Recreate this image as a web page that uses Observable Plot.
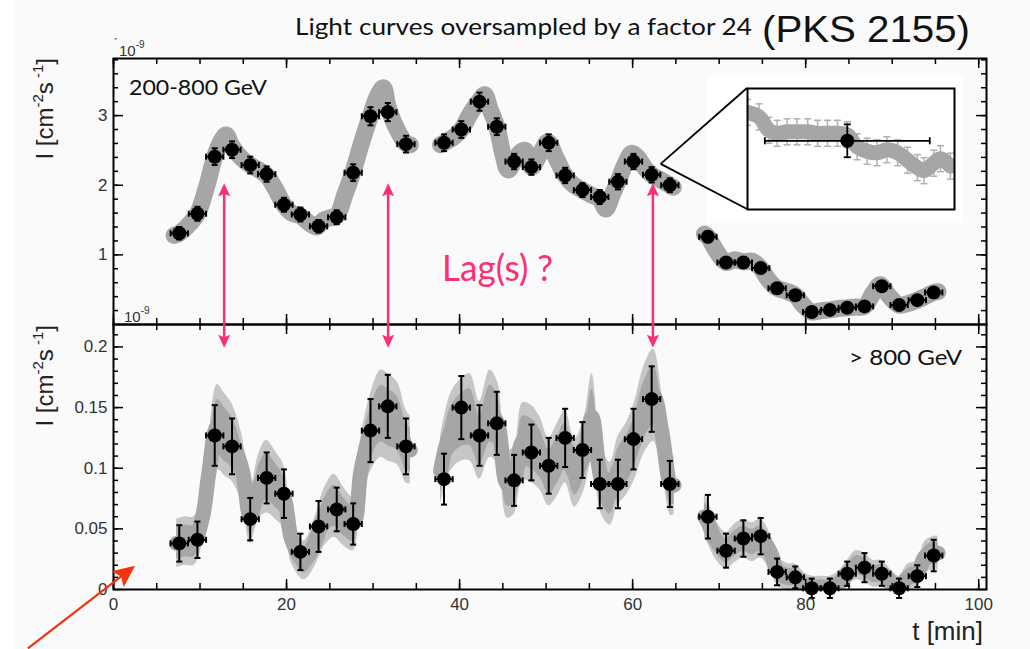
<!DOCTYPE html>
<html>
<head>
<meta charset="utf-8">
<script src="https://cdn.jsdelivr.net/npm/d3@7"></script>
<script src="https://cdn.jsdelivr.net/npm/@observablehq/plot@0.6"></script>
<style>
  html, body { margin: 0; padding: 0; background: #fff; }
  #stage { position: relative; width: 1030px; height: 649px; overflow: hidden;
           background: linear-gradient(to right, #fff 14px, #fafafa 14px); }
  #stage > svg { position: absolute; overflow: visible; }
</style>
</head>
<body>
<div id="stage"></div>
<script>
// PKS 2155-304 light curves: 2-min bins and the same data oversampled by a factor 24.

// Bin centres (minutes)
const binT = [7.6, 9.7, 11.7, 13.7, 15.8, 17.7, 19.7, 21.6, 23.7, 25.8, 27.7, 29.7, 31.7, 33.8,
  38.2, 40.2, 42.3, 44.3, 46.3, 48.3, 50.3, 52.2, 54.2, 56.2, 58.3, 60.1, 62.2, 64.3,
  68.7, 70.8, 72.8, 74.8, 76.7, 78.8, 80.7, 82.8, 84.8, 86.8, 88.8, 90.8, 92.9, 94.8];
const binHalfWidth = 1.0;

// 200-800 GeV flux (1e-9 cm^-2 s^-1)
const lowFlux = [1.31, 1.59, 2.41, 2.51, 2.29, 2.16, 1.72, 1.58, 1.41, 1.54, 2.18, 2.99, 3.05, 2.59,
  2.61, 2.80, 3.20, 2.84, 2.34, 2.26, 2.61, 2.14, 1.93, 1.83, 2.05, 2.34, 2.15, 2.00,
  1.26, 0.89, 0.89, 0.81, 0.52, 0.42, 0.18, 0.21, 0.24, 0.26, 0.55, 0.28, 0.35, 0.46];
const lowErr = [0.09, 0.10, 0.12, 0.12, 0.12, 0.11, 0.10, 0.10, 0.09, 0.10, 0.12, 0.13, 0.13, 0.12,
  0.12, 0.12, 0.13, 0.12, 0.11, 0.11, 0.12, 0.11, 0.10, 0.10, 0.11, 0.11, 0.11, 0.10,
  0.08, 0.07, 0.07, 0.07, 0.06, 0.06, 0.05, 0.05, 0.05, 0.05, 0.06, 0.05, 0.05, 0.06];

// > 800 GeV flux (1e-9 cm^-2 s^-1)
const highFlux = [0.038, 0.041, 0.127, 0.118, 0.058, 0.092, 0.079, 0.031, 0.052, 0.066, 0.054, 0.131, 0.151, 0.118,
  0.091, 0.150, 0.127, 0.137, 0.090, 0.113, 0.102, 0.125, 0.115, 0.087, 0.087, 0.124, 0.157, 0.087,
  0.060, 0.032, 0.042, 0.044, 0.0145, 0.010, 0.001, 0.001, 0.013, 0.018, 0.013, 0.001, 0.011, 0.028];
const highErr = [0.015, 0.015, 0.025, 0.023, 0.0175, 0.021, 0.020, 0.015, 0.021, 0.018, 0.017, 0.026, 0.026, 0.023,
  0.021, 0.026, 0.025, 0.026, 0.021, 0.023, 0.023, 0.024, 0.023, 0.020, 0.020, 0.025, 0.027, 0.019,
  0.018, 0.014, 0.015, 0.015, 0.011, 0.009, 0.008, 0.008, 0.010, 0.012, 0.010, 0.008, 0.009, 0.013];

// Oversampled 200-800 GeV curve
const overLowT = [7.0, 7.6, 8.6, 9.7, 10.7, 11.7, 12.3, 13.0, 13.7, 14.7, 15.8, 16.8, 17.7, 18.7, 19.7, 20.6,
  21.6, 22.6, 23.5, 24.3, 25.0, 25.8, 26.7, 27.7, 28.7, 29.7, 30.5, 31.2, 31.7, 32.7, 33.8, 34.3,
  37.8, 38.2, 39.2, 40.2, 41.2, 42.3, 42.9, 43.5, 44.3, 45.0, 45.6, 46.3, 47.0, 47.6, 48.3, 49.3,
  50.2, 51.2, 52.2, 53.2, 54.2, 55.2, 56.2, 56.9, 57.6, 58.3, 59.2, 59.9, 60.6, 61.4, 62.2, 63.2, 64.3, 64.7,
  68.3, 68.7, 69.7, 70.8, 71.8, 72.8, 73.8, 74.8, 75.7, 76.7, 77.7, 78.8, 79.7, 80.7, 81.8, 82.8,
  83.8, 84.8, 85.8, 86.8, 87.8, 88.6, 89.7, 90.8, 91.8, 92.9, 93.8, 94.8, 95.3];
const overLowV = [1.28, 1.31, 1.42, 1.59, 1.95, 2.41, 2.60, 2.72, 2.56, 2.40, 2.29, 2.22, 2.14, 1.95, 1.72, 1.60,
  1.56, 1.46, 1.40, 1.50, 1.53, 1.56, 1.85, 2.20, 2.62, 3.00, 3.28, 3.40, 3.14, 2.82, 2.60, 2.58,
  2.58, 2.61, 2.68, 2.80, 3.02, 3.22, 3.30, 3.10, 2.84, 2.45, 2.22, 2.34, 2.47, 2.50, 2.26, 2.45,
  2.62, 2.38, 2.14, 2.00, 1.93, 1.86, 1.80, 1.66, 1.85, 2.05, 2.32, 2.46, 2.40, 2.25, 2.15, 2.08, 2.00, 1.97,
  1.30, 1.26, 1.05, 0.89, 0.93, 0.90, 0.91, 0.81, 0.64, 0.52, 0.48, 0.42, 0.28, 0.18, 0.20, 0.21,
  0.23, 0.24, 0.25, 0.26, 0.45, 0.57, 0.40, 0.28, 0.30, 0.35, 0.40, 0.46, 0.47];

// Oversampled > 800 GeV curve, with the spread of its error bars
const overHighT = [7.3, 8.3, 9.3, 10.3, 11.0, 12.0, 12.8, 13.7, 14.9, 15.8, 16.8, 17.7, 18.7, 19.7, 20.6, 22.0,
  23.2, 24.4, 25.5, 26.6, 27.7, 28.6, 29.7, 30.9, 31.7, 32.8, 33.8, 34.3,
  37.8, 39.0, 40.2, 41.2, 42.3, 43.5, 44.4, 45.5, 46.3, 47.3, 48.3, 49.3, 50.3, 51.3, 52.2, 53.3,
  54.4, 55.3, 56.4, 57.4, 58.3, 59.3, 60.2, 61.3, 62.4, 63.4, 64.4, 64.8,
  68.3, 68.6, 69.6, 70.8, 71.8, 72.8, 73.8, 74.8, 75.9, 76.8, 78.0, 78.8, 79.9, 80.8, 81.8, 82.8,
  83.8, 84.8, 85.8, 86.8, 87.8, 88.8, 89.9, 90.8, 91.8, 92.9, 93.8, 94.8, 95.3];
const overHighV = [0.038, 0.040, 0.040, 0.060, 0.095, 0.134, 0.128, 0.121, 0.098, 0.060, 0.085, 0.093, 0.086, 0.076, 0.041, 0.024,
  0.038, 0.060, 0.069, 0.060, 0.054, 0.098, 0.129, 0.145, 0.142, 0.137, 0.118, 0.115,
  0.098, 0.130, 0.140, 0.142, 0.123, 0.145, 0.137, 0.087, 0.090, 0.122, 0.120, 0.112, 0.097, 0.107, 0.118, 0.096,
  0.112, 0.142, 0.090, 0.079, 0.098, 0.108, 0.122, 0.148, 0.160, 0.129, 0.087, 0.086,
  0.060, 0.057, 0.041, 0.032, 0.038, 0.042, 0.039, 0.042, 0.031, 0.0145, 0.0103, 0.010, 0.0035, 0.002, 0.002, 0.002,
  0.005, 0.013, 0.020, 0.018, 0.013, 0.013, 0.006, 0.002, 0.010, 0.013, 0.027, 0.030, 0.030];
const overHighE = [0.020, 0.020, 0.020, 0.022, 0.028, 0.035, 0.034, 0.032, 0.028, 0.022, 0.027, 0.030, 0.028, 0.026, 0.020, 0.016,
  0.020, 0.024, 0.026, 0.024, 0.022, 0.028, 0.032, 0.036, 0.036, 0.034, 0.030, 0.028,
  0.028, 0.032, 0.034, 0.036, 0.032, 0.036, 0.034, 0.028, 0.028, 0.032, 0.032, 0.030, 0.028, 0.030, 0.030, 0.028,
  0.030, 0.036, 0.028, 0.026, 0.028, 0.030, 0.032, 0.036, 0.038, 0.032, 0.026, 0.024,
  0.018, 0.018, 0.016, 0.015, 0.016, 0.016, 0.016, 0.016, 0.015, 0.012, 0.011, 0.011, 0.010, 0.009, 0.009, 0.009,
  0.010, 0.011, 0.012, 0.012, 0.011, 0.011, 0.010, 0.009, 0.011, 0.011, 0.013, 0.014, 0.014];

// Close-up of one 2-min bin: the oversampled points around it
const zoomT = [60.99, 61.13, 61.25, 61.35, 61.47, 61.59, 61.72, 61.84, 61.96, 62.08, 62.20, 62.32,
  62.44, 62.56, 62.68, 62.81, 62.93, 63.05, 63.13, 63.25, 63.33, 63.45];
const zoomV = [2.34, 2.31, 2.22, 2.20, 2.21, 2.21, 2.21, 2.20, 2.20, 2.20, 2.19, 2.11,
  2.08, 2.07, 2.09, 2.07, 2.02, 1.97, 1.95, 2.00, 2.03, 1.98];
const zoomErr = 0.087;
const zoomBin = 26;
const zoomWindow = [60.99, 63.5];
const zoomRange = [1.69, 2.50];
const zoomAnchor = {t: 63.3, v: 2.30};

// Flares compared between the two bands, and a pointer to the origin
const lagT = [12.85, 31.8, 62.4];
const lagFrom = 2.02, lagTo = 0.199;
const pointer = {t1: -9.84, v1: -0.049, t2: 2.55, v2: 0.0192};

// Axes
const tDomain = [0, 100.9];
const lowDomain = [0, 3.82];
const highDomain = [0, 0.2185];
const xTicks = [0, 20, 40, 60, 80, 100];
const lowTicks = [1, 2, 3];
const highTicks = [0, 0.05, 0.1, 0.15, 0.2];

// ---------------------------------------------------------------------------
const SANS = "'Liberation Sans', Arial, Helvetica, sans-serif";
const HUMANIST = "Lato, 'Open Sans', sans-serif";
const PINK = "#fb2f72";
const GRAY = "#a6a6a6";
const W = 1030, ML = 113, MR = 44;
const frameW = W - ML - MR;
const LOW_H = 324, LOW_TOP = 58;
const HIGH_Y0 = 324, HIGH_H = 325, HIGH_BOTTOM = 60;

function segId(ts) {
  let s = 0;
  return ts.map((t, i) => { if (i && t - ts[i - 1] > 2.5) s++; return s; });
}

const binsLow = binT.map((t, i) => ({t, v: lowFlux[i], e: lowErr[i]}));
const binsHigh = binT.map((t, i) => ({t, v: highFlux[i], e: highErr[i]}));
const segLow = segId(overLowT);
const overLow = overLowT.map((t, i) => ({t, v: overLowV[i], seg: segLow[i]}));
const segHigh = segId(overHighT);
const overHigh = overHighT.map((t, i) => ({t, v: overHighV[i], e: overHighE[i], seg: segHigh[i]}));
const zoomRows = zoomT.map((t, i) => ({t, v: zoomV[i], e: zoomErr}));

// error-bar end caps as custom symbols
const capH = {draw(ctx, size) { const r = Math.sqrt(size / Math.PI); ctx.moveTo(-r, 0); ctx.lineTo(r, 0); }};
const capV = {draw(ctx, size) { const r = Math.sqrt(size / Math.PI); ctx.moveTo(0, -r); ctx.lineTo(0, r); }};

function errorBars(rows, {color = "black", width = 2, cap = 3, horizontal = true, clip = false} = {}) {
  const s = {stroke: color, strokeWidth: width, clip};
  const marks = [
    Plot.ruleX(rows, {x: "t", y1: d => d.v - d.e, y2: d => d.v + d.e, ...s}),
    Plot.dot(rows, {x: "t", y: d => d.v - d.e, symbol: capH, r: cap, fill: "none", ...s}),
    Plot.dot(rows, {x: "t", y: d => d.v + d.e, symbol: capH, r: cap, fill: "none", ...s})
  ];
  if (horizontal) marks.push(
    Plot.ruleY(rows, {y: "v", x1: d => d.t - binHalfWidth, x2: d => d.t + binHalfWidth, ...s}),
    Plot.dot(rows, {x: d => d.t - binHalfWidth, y: "v", symbol: capV, r: cap, fill: "none", ...s}),
    Plot.dot(rows, {x: d => d.t + binHalfWidth, y: "v", symbol: capV, r: cap, fill: "none", ...s})
  );
  return marks;
}

function frameTicks(frameH, yMajor, yMinor) {
  const xMinor = d3.range(0, 101, 5);
  const o = {stroke: "black", strokeWidth: 1.5};
  return [
    Plot.tickX(xMinor, {x: d => d, insetTop: frameH - 6, ...o}),
    Plot.tickX(xTicks, {x: d => d, insetTop: frameH - 10, ...o}),
    Plot.tickX(xMinor, {x: d => d, insetBottom: frameH - 6, ...o}),
    Plot.tickX(xTicks, {x: d => d, insetBottom: frameH - 10, ...o}),
    Plot.tickY(yMinor, {y: d => d, insetRight: frameW - 5, ...o}),
    Plot.tickY(yMajor, {y: d => d, insetRight: frameW - 10, ...o}),
    Plot.tickY(yMinor, {y: d => d, insetLeft: frameW - 5, ...o}),
    Plot.tickY(yMajor, {y: d => d, insetLeft: frameW - 10, ...o})
  ];
}

const plotStyle = {background: "transparent", overflow: "visible", fontFamily: SANS, fontSize: "17px", color: "#333"};

// 200-800 GeV panel
const lowPlot = Plot.plot({
  width: W, height: LOW_H,
  marginLeft: ML, marginRight: MR, marginTop: LOW_TOP, marginBottom: 0,
  x: {domain: tDomain, axis: null},
  y: {domain: lowDomain},
  style: plotStyle,
  marks: [
    Plot.line(overLow, {x: "t", y: "v", z: "seg", curve: "catmull-rom", stroke: GRAY, strokeWidth: 17,
      strokeLinecap: "round", strokeLinejoin: "round", clip: true}),
    ...errorBars(binsLow),
    Plot.dot(binsLow, {x: "t", y: "v", r: 7, fill: "black"}),
    ...frameTicks(LOW_H - LOW_TOP, lowTicks, d3.range(1, 20).map(i => i * 0.2)),
    Plot.frame({stroke: "black", strokeWidth: 2}),
    Plot.axisY({ticks: lowTicks, tickSize: 0, tickPadding: 6, tickFormat: d3.format("d"), label: null})
  ]
});

// > 800 GeV panel
const highPlot = Plot.plot({
  width: W, height: HIGH_H,
  marginLeft: ML, marginRight: MR, marginTop: 0, marginBottom: HIGH_BOTTOM,
  x: {domain: tDomain},
  y: {domain: highDomain},
  style: plotStyle,
  marks: [
    Plot.areaY(overHigh, {x: "t", y1: d => d.v - d.e, y2: d => d.v + d.e, z: "seg", curve: "catmull-rom",
      fill: "#c6c6c6", clip: true}),
    Plot.areaY(overHigh, {x: "t", y1: d => d.v - 0.65 * d.e, y2: d => d.v + 0.65 * d.e, z: "seg", curve: "catmull-rom",
      fill: GRAY, clip: true}),
    Plot.line(overHigh, {x: "t", y: "v", z: "seg", curve: "catmull-rom", stroke: GRAY, strokeWidth: 15,
      strokeLinecap: "round", strokeLinejoin: "round", clip: true}),
    ...errorBars(binsHigh),
    Plot.dot(binsHigh, {x: "t", y: "v", r: 7, fill: "black"}),
    ...frameTicks(HIGH_H - HIGH_BOTTOM, highTicks, d3.range(1, 22).map(i => i * 0.01)),
    Plot.frame({stroke: "black", strokeWidth: 2}),
    Plot.axisY({ticks: highTicks, tickSize: 0, tickPadding: 6, tickFormat: d => d === 0 ? "0" : String(d), label: null}),
    Plot.axisX({ticks: xTicks, tickSize: 0, tickPadding: 8, label: null})
  ]
});

// close-up of one bin
const ZX = 707, ZY = 75, ZW = 256, ZH = 148;
const zoomPlot = Plot.plot({
  width: ZW, height: ZH, marginLeft: 40, marginTop: 13, marginRight: 9, marginBottom: 14,
  x: {domain: zoomWindow, axis: null},
  y: {domain: zoomRange, axis: null},
  style: {background: "white", overflow: "visible"},
  marks: [
    ...errorBars(zoomRows, {color: "#b0b0b0", width: 1.5, cap: 3.5, horizontal: false, clip: true}),
    Plot.line(zoomRows, {x: "t", y: "v", curve: "catmull-rom", stroke: GRAY, strokeWidth: 15,
      strokeLinecap: "round", strokeLinejoin: "round", clip: true}),
    ...errorBars([binsLow[zoomBin]], {width: 1.8, cap: 3.5}),
    Plot.dot([binsLow[zoomBin]], {x: "t", y: "v", r: 7, fill: "black"}),
    Plot.frame({stroke: "black", strokeWidth: 2})
  ]
});

const stage = document.getElementById("stage");
for (const [svg, x, y] of [[lowPlot, 0, 0], [highPlot, 0, HIGH_Y0], [zoomPlot, ZX, ZY]]) {
  svg.style.left = x + "px";
  svg.style.top = y + "px";
  stage.appendChild(svg);
}

// ---------------------------------------------------------------------------
// annotation layer, positioned through the panels' own scales
const lin = s => d3.scaleLinear(s.domain, s.range);
const fx = lin(lowPlot.scale("x"));
const fyLow = lin(lowPlot.scale("y"));
const fyHigh = v => HIGH_Y0 + lin(highPlot.scale("y"))(v);
const zx = v => ZX + lin(zoomPlot.scale("x"))(v);
const zy = v => ZY + lin(zoomPlot.scale("y"))(v);

const ov = d3.create("svg").attr("width", W).attr("height", 649)
  .style("left", "0px").style("top", "0px").style("pointer-events", "none");

function head(g, x, y, dx, dy, len, half, color) {
  const n = Math.hypot(dx, dy), ux = dx / n, uy = dy / n, px = -uy, py = ux;
  const bx = x - ux * len, by = y - uy * len;
  const nx = x - ux * len * 0.8, ny = y - uy * len * 0.8;
  g.append("path")
    .attr("d", `M${x},${y}L${bx + px * half},${by + py * half}L${nx},${ny}L${bx - px * half},${by - py * half}Z`)
    .attr("fill", color);
}

// zoom connectors
const ax = fx(zoomAnchor.t), ay = fyLow(zoomAnchor.v);
for (const v of zoomRange) {
  ov.append("line").attr("x1", ax).attr("y1", ay).attr("x2", zx(zoomWindow[0])).attr("y2", zy(v))
    .attr("stroke", "black").attr("stroke-width", 1.8);
}

// lag arrows
for (const t of lagT) {
  const x = fx(t), y1 = fyLow(lagFrom), y2 = fyHigh(lagTo);
  ov.append("line").attr("x1", x).attr("x2", x).attr("y1", y1 + 6).attr("y2", y2 - 6)
    .attr("stroke", PINK).attr("stroke-width", 2.5);
  head(ov, x, y1, 0, -1, 13, 6, PINK);
  head(ov, x, y2, 0, 1, 13, 6, PINK);
}

// pointer to the origin
{
  const x1 = fx(pointer.t1), y1 = fyHigh(pointer.v1), x2 = fx(pointer.t2), y2 = fyHigh(pointer.v2);
  const n = Math.hypot(x2 - x1, y2 - y1);
  ov.append("line").attr("x1", x1).attr("y1", y1)
    .attr("x2", x2 - (x2 - x1) / n * 15).attr("y2", y2 - (y2 - y1) / n * 15)
    .attr("stroke", "#f5330e").attr("stroke-width", 2.2);
  head(ov, x2, y2, x2 - x1, y2 - y1, 22, 10, "#f5330e");
}

function text(x, y, str, {size = 16, family = SANS, fill = "#111", anchor = "start", length = null, weight = 400} = {}) {
  const t = ov.append("text").attr("x", x).attr("y", y).attr("font-size", size).attr("font-family", family)
    .attr("fill", fill).attr("text-anchor", anchor).attr("font-weight", weight).text(str);
  if (length) t.attr("textLength", length).attr("lengthAdjust", "spacingAndGlyphs");
  return t;
}

// titles
text(295, 35, "Light curves oversampled by a factor 24", {size: 23, family: HUMANIST, length: 457});
text(762, 42, "(PKS 2155)", {size: 37, length: 208});

// panel labels
text(129, 95, "200-800 GeV", {size: 21, family: HUMANIST, length: 138});
text(962, 365, "> 800 GeV", {size: 21, family: HUMANIST, anchor: "end", length: 113});
text(983, 640, "t [min]", {size: 26, fill: "#222", anchor: "end"});
text(442, 281, "Lag(s) ?", {size: 37, family: HUMANIST, fill: PINK, length: 111});

// exponent labels
function exponent(x, y, mark) {
  if (mark) text(x - 5, y - 8, "´", {size: 12, fill: "#333"});
  const t = ov.append("text").attr("x", x).attr("y", y).attr("font-family", SANS).attr("font-size", 15).attr("fill", "#333");
  t.append("tspan").text("10");
  t.append("tspan").attr("font-size", 10).attr("dy", -8).text("-9");
}
exponent(119, 56, true);
exponent(124, 322, false);

// y-axis titles
function yTitle(top) {
  const t = ov.append("text").attr("transform", `translate(53,${top}) rotate(-90)`)
    .attr("text-anchor", "end").attr("font-family", SANS).attr("font-size", 24).attr("fill", "#222");
  t.append("tspan").text("I [cm");
  t.append("tspan").attr("font-size", 15).attr("dy", -10).text("-2");
  t.append("tspan").attr("dy", 10).text("s");
  t.append("tspan").attr("font-size", 15).attr("dy", -10).text(" -1");
  t.append("tspan").attr("dy", 10).text("]");
}
yTitle(58);
yTitle(325);

stage.appendChild(ov.node());
</script>
</body>
</html>
